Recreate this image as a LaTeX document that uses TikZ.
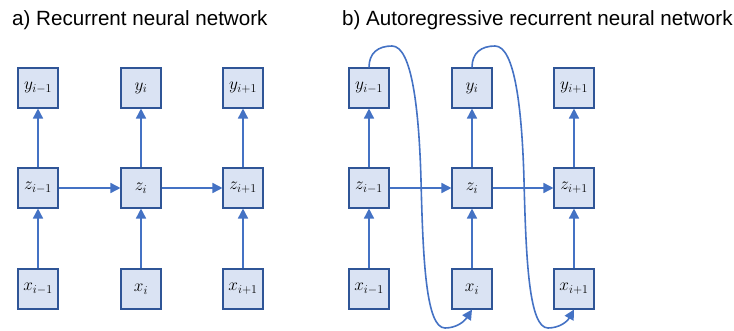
\documentclass[tikz,border=0pt]{standalone}
\usepackage{fontspec}
\setmainfont{Liberation Sans}
\usetikzlibrary{arrows.meta}
\definecolor{boxfill}{HTML}{DAE3F3}
\definecolor{boxdraw}{HTML}{2F5597}
\definecolor{arrblue}{HTML}{4472C4}
\begin{document}
\begin{tikzpicture}[x=1pt,y=-1pt,
  cell/.style={draw=boxdraw,fill=boxfill,line width=1.1pt,minimum width=40pt,minimum height=40pt,inner sep=0pt,font=\fontsize{18}{18}\selectfont},
  conn/.style={draw=arrblue,line width=1.6pt,-{Triangle[length=10pt,width=10pt]}},
  title/.style={anchor=base west,inner sep=0pt,font=\fontsize{20.6}{22}\selectfont}]
\useasboundingbox (0,0) rectangle (734,331);
\node[title] (ta) at (12,26) {a) Recurrent neural network};
\node[title] (tb) at (342,26) {b) Autoregressive recurrent neural network};
% panel a
\node[cell] (ay1) at (38,88) {$y_{i-1}$};
\node[cell] (ay2) at (141,88) {$y_{i}$};
\node[cell] (ay3) at (243,88) {$y_{i+1}$};
\node[cell] (az1) at (38,188) {$z_{i-1}$};
\node[cell] (az2) at (141,188) {$z_{i}$};
\node[cell] (az3) at (243,188) {$z_{i+1}$};
\node[cell] (ax1) at (38,289) {$x_{i-1}$};
\node[cell] (ax2) at (141,289) {$x_{i}$};
\node[cell] (ax3) at (243,289) {$x_{i+1}$};
\foreach \i in {1,2,3}{
  \draw[conn] (ax\i) -- (az\i);
  \draw[conn] (az\i) -- (ay\i);
}
\draw[conn] (az1) -- (az2);
\draw[conn] (az2) -- (az3);
% panel b
\node[cell] (by1) at (369,88) {$y_{i-1}$};
\node[cell] (by2) at (472,88) {$y_{i}$};
\node[cell] (by3) at (574,88) {$y_{i+1}$};
\node[cell] (bz1) at (369,188) {$z_{i-1}$};
\node[cell] (bz2) at (472,188) {$z_{i}$};
\node[cell] (bz3) at (574,188) {$z_{i+1}$};
\node[cell] (bx1) at (369,289) {$x_{i-1}$};
\node[cell] (bx2) at (472,289) {$x_{i}$};
\node[cell] (bx3) at (574,289) {$x_{i+1}$};
\foreach \i in {1,2,3}{
  \draw[conn] (bx\i) -- (bz\i);
  \draw[conn] (bz\i) -- (by\i);
}
\draw[conn] (bz1) -- (bz2);
\draw[conn] (bz2) -- (bz3);
\draw[conn] (by1.north) .. controls (369,53) and (378,46) .. (392,46)
  .. controls (412,46) and (419,110) .. (421,180)
  .. controls (423,260) and (426,328) .. (445,328)
  .. controls (456,328) and (464,322) .. (bx2.south);
\draw[conn] (by2.north) .. controls (472,53) and (481,46) .. (495,46)
  .. controls (515,46) and (522,110) .. (524,180)
  .. controls (526,260) and (529,328) .. (548,328)
  .. controls (559,328) and (567,322) .. (bx3.south);
\end{tikzpicture}
\end{document}
